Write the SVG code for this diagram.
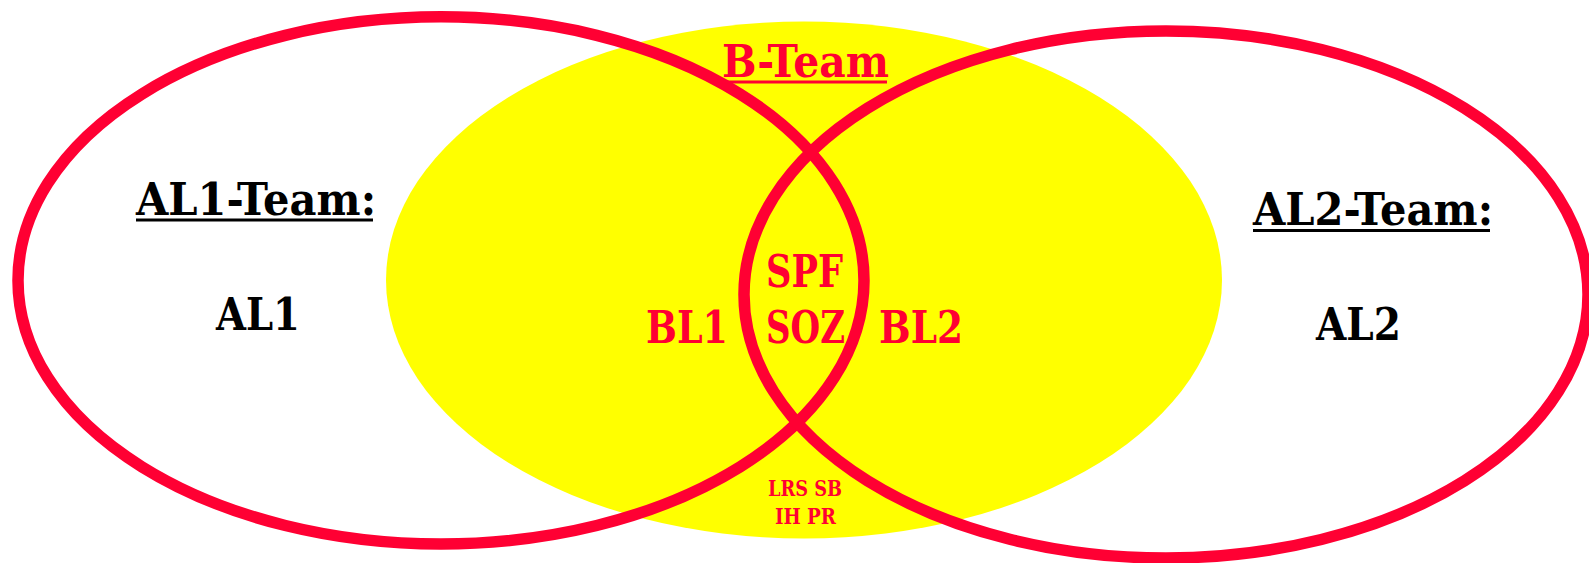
<svg xmlns="http://www.w3.org/2000/svg" width="1589" height="563" viewBox="0 0 1589 563">
  <style>
    .ring { fill: none; stroke: #FF0033; stroke-width: 11.5; }
    .lbl { font-family: "DejaVu Serif", "Liberation Serif", serif; font-weight: bold; font-size: 44px; }
    .small { font-family: "DejaVu Serif", "Liberation Serif", serif; font-weight: bold; font-size: 22px; fill: #FF0033; }
    .blk { fill: #000000; }
    .red { fill: #FF0033; }
    .ul-blk { stroke: #000000; stroke-width: 3; }
    .ul-red { stroke: #FF0033; stroke-width: 3; }
  </style>
  <rect width="1589" height="563" fill="#FFFFFF"/>
  <g id="b-team-area">
    <ellipse cx="804" cy="280" rx="418" ry="258.5" fill="#FFFF00"/>
  </g>
  <g id="al1-ring">
    <ellipse class="ring" cx="441" cy="280.4" rx="423" ry="263.6"/>
  </g>
  <g id="al2-ring">
    <ellipse class="ring" cx="1166" cy="294.5" rx="422" ry="263.5"/>
  </g>
  <g id="al1-team">
    <text class="lbl blk" x="136" y="215" textLength="240" lengthAdjust="spacingAndGlyphs">AL1-Team:</text>
    <line class="ul-blk" x1="136" y1="220" x2="373" y2="220"/>
    <text class="lbl blk" x="216" y="330" textLength="84" lengthAdjust="spacingAndGlyphs">AL1</text>
  </g>
  <g id="al2-team">
    <text class="lbl blk" x="1253" y="225" textLength="240" lengthAdjust="spacingAndGlyphs">AL2-Team:</text>
    <line class="ul-blk" x1="1253" y1="230.5" x2="1490" y2="230.5"/>
    <text class="lbl blk" x="1316" y="340" textLength="85" lengthAdjust="spacingAndGlyphs">AL2</text>
  </g>
  <g id="b-team">
    <text class="lbl red" x="722" y="77" textLength="167" lengthAdjust="spacingAndGlyphs">B-Team</text>
    <line class="ul-red" x1="722" y1="82" x2="887" y2="82"/>
    <text class="lbl red" x="646" y="343" textLength="82" lengthAdjust="spacingAndGlyphs">BL1</text>
    <text class="lbl red" x="879" y="343" textLength="84" lengthAdjust="spacingAndGlyphs">BL2</text>
  </g>
  <g id="center">
    <text class="lbl red" x="766" y="287" textLength="77" lengthAdjust="spacingAndGlyphs">SPF</text>
    <text class="lbl red" x="766" y="343" textLength="79" lengthAdjust="spacingAndGlyphs">SOZ</text>
  </g>
  <g id="bottom-labels">
    <text class="small" x="768" y="496" textLength="74" lengthAdjust="spacingAndGlyphs">LRS SB</text>
    <text class="small" x="775" y="524" textLength="61" lengthAdjust="spacingAndGlyphs">IH PR</text>
  </g>
</svg>
